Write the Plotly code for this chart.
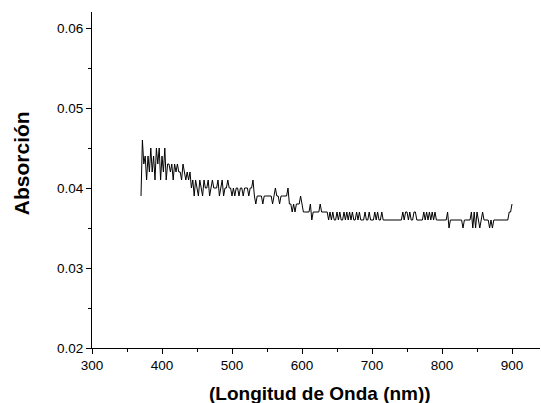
import plotly.graph_objects as go

wavelength_start = 370
wavelength_step = 2
absorbance = [
    0.039, 0.046, 0.043, 0.044, 0.041, 0.044, 0.042, 0.045, 0.042, 0.044,
    0.041, 0.045, 0.043, 0.045, 0.041, 0.044, 0.042, 0.045, 0.041, 0.043,
    0.043, 0.042, 0.043, 0.041, 0.043, 0.042, 0.043, 0.042, 0.042, 0.041,
    0.043, 0.042, 0.041, 0.042, 0.041, 0.042, 0.040, 0.041, 0.039, 0.041,
    0.040, 0.039, 0.041, 0.040, 0.039, 0.041, 0.040, 0.040, 0.041, 0.039,
    0.040, 0.041, 0.040, 0.040, 0.040, 0.041, 0.039, 0.040, 0.041, 0.039,
    0.040, 0.040, 0.041, 0.040, 0.040, 0.039, 0.040, 0.039, 0.040, 0.040,
    0.039, 0.040, 0.040, 0.039, 0.040, 0.040, 0.040, 0.039, 0.040, 0.040,
    0.041, 0.039, 0.038, 0.039, 0.039, 0.039, 0.039, 0.038, 0.039, 0.039,
    0.039, 0.039, 0.039, 0.039, 0.038, 0.039, 0.040, 0.039, 0.039, 0.038,
    0.039, 0.039, 0.039, 0.039, 0.039, 0.040, 0.038, 0.038, 0.037, 0.038,
    0.037, 0.038, 0.038, 0.038, 0.039, 0.038, 0.037, 0.037, 0.037, 0.037,
    0.037, 0.038, 0.036, 0.037, 0.037, 0.037, 0.037, 0.037, 0.038, 0.037,
    0.037, 0.037, 0.037, 0.037, 0.036, 0.037, 0.036, 0.037, 0.036, 0.036,
    0.037, 0.036, 0.037, 0.036, 0.036, 0.037, 0.036, 0.037, 0.036, 0.037,
    0.036, 0.037, 0.036, 0.036, 0.037, 0.036, 0.037, 0.036, 0.036, 0.036,
    0.037, 0.036, 0.036, 0.037, 0.036, 0.036, 0.036, 0.037, 0.036, 0.037,
    0.036, 0.036, 0.037, 0.036, 0.036, 0.036, 0.036, 0.036, 0.036, 0.036,
    0.036, 0.036, 0.036, 0.036, 0.036, 0.036, 0.036, 0.037, 0.036, 0.037,
    0.037, 0.036, 0.037, 0.036, 0.036, 0.037, 0.037, 0.036, 0.036, 0.036,
    0.036, 0.036, 0.037, 0.036, 0.037, 0.036, 0.037, 0.036, 0.037, 0.036,
    0.037, 0.036, 0.036, 0.036, 0.036, 0.036, 0.036, 0.036, 0.036, 0.037,
    0.035, 0.036, 0.036, 0.036, 0.036, 0.036, 0.036, 0.036, 0.036, 0.036,
    0.035, 0.036, 0.036, 0.036, 0.036, 0.036, 0.037, 0.035, 0.037, 0.035,
    0.037, 0.036, 0.035, 0.036, 0.037, 0.036, 0.036, 0.036, 0.036, 0.035,
    0.036, 0.035, 0.036, 0.036, 0.036, 0.036, 0.036, 0.036, 0.036, 0.036,
    0.036, 0.036, 0.036, 0.037, 0.037, 0.038,
]
wavelength = [wavelength_start + wavelength_step * i for i in range(len(absorbance))]

x_title = "(Longitud de Onda (nm))"
y_title = "Absorción"
x_tickvals = [300, 400, 500, 600, 700, 800, 900]
y_tickvals = [0.02, 0.03, 0.04, 0.05, 0.06]
y_ticktext = ["0.02", "0.03", "0.04", "0.05", "0.06"]

FONT = "Liberation Sans, Arial, Helvetica, sans-serif"

fig = go.Figure()
fig.add_trace(go.Scatter(
    x=wavelength, y=absorbance, mode="lines",
    line=dict(color="black", width=1),
    showlegend=False, hoverinfo="skip",
))

axis_common = dict(
    showgrid=False, zeroline=False, showline=True, linecolor="black", linewidth=1,
    ticks="outside", ticklen=5, tickwidth=1, tickcolor="black",
    tickfont=dict(family=FONT, size=13.5, color="black"),
    mirror=False,
)

fig.update_xaxes(
    range=[300, 940], tickvals=x_tickvals,
    minor=dict(ticks="outside", ticklen=3, tickwidth=1, tickcolor="black", dtick=50, tick0=300),
    **axis_common,
)
fig.update_yaxes(
    range=[0.02, 0.062], tickvals=y_tickvals, ticktext=y_ticktext,
    minor=dict(ticks="outside", ticklen=3, tickwidth=1, tickcolor="black", dtick=0.005, tick0=0.02),
    **axis_common,
)

fig.add_annotation(
    text=f"<b>{x_title}</b>", xref="paper", yref="paper", x=0.51, y=0,
    yshift=-45, xanchor="center", yanchor="middle", showarrow=False,
    font=dict(family=FONT, size=19, color="black"),
)
fig.add_annotation(
    text=f"<b>{y_title}</b>", xref="paper", yref="paper", x=0, y=0.55,
    xshift=-71, xanchor="center", yanchor="middle", showarrow=False, textangle=-90,
    font=dict(family=FONT, size=21, color="black"),
)

fig.update_layout(
    width=541, height=403,
    margin=dict(l=92, r=1, t=12, b=55, autoexpand=False),
    paper_bgcolor="white", plot_bgcolor="white",
    font=dict(family=FONT, color="black"),
)

fig.write_html("out.html", config={"displayModeBar": False},
               post_script="document.body.style.margin='0px';")
